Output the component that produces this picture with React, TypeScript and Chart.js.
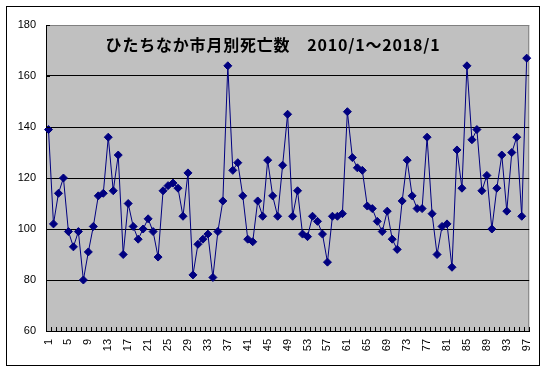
import { useEffect, useRef } from 'react';
import { Chart, registerables } from 'chart.js';

Chart.register(...registerables);

const TITLE = 'ひたちなか市月別死亡数　2010/1～2018/1';

// month index 1..97 (2010/1 .. 2018/1)
const months = [
  '1', '2', '3', '4', '5', '6', '7', '8', '9', '10',
  '11', '12', '13', '14', '15', '16', '17', '18', '19', '20',
  '21', '22', '23', '24', '25', '26', '27', '28', '29', '30',
  '31', '32', '33', '34', '35', '36', '37', '38', '39', '40',
  '41', '42', '43', '44', '45', '46', '47', '48', '49', '50',
  '51', '52', '53', '54', '55', '56', '57', '58', '59', '60',
  '61', '62', '63', '64', '65', '66', '67', '68', '69', '70',
  '71', '72', '73', '74', '75', '76', '77', '78', '79', '80',
  '81', '82', '83', '84', '85', '86', '87', '88', '89', '90',
  '91', '92', '93', '94', '95', '96', '97',
];

const deaths = [
  139, 102, 114, 120, 99, 93, 99, 80, 91, 101,
  113, 114, 136, 115, 129, 90, 110, 101, 96, 100,
  104, 99, 89, 115, 117, 118, 116, 105, 122, 82,
  94, 96, 98, 81, 99, 111, 164, 123, 126, 113,
  96, 95, 111, 105, 127, 113, 105, 125, 145, 105,
  115, 98, 97, 105, 103, 98, 87, 105, 105, 106,
  146, 128, 124, 123, 109, 108, 103, 99, 107, 96,
  92, 111, 127, 113, 108, 108, 136, 106, 90, 101,
  102, 85, 131, 116, 164, 135, 139, 115, 121, 100,
  116, 129, 107, 130, 136, 105, 167,
];

const yMin = 60;
const yMax = 180;
const yStep = 20;
const labelEvery = 4;

const AXIS_FONT = 'Liberation Sans, Arial, sans-serif';

const framePlugin = {
  id: 'excelFrame',
  beforeDraw(chart: any) {
    const { ctx, chartArea: a, width, height } = chart;
    ctx.save();
    ctx.fillStyle = '#ffffff';
    ctx.fillRect(0, 0, width, height);
    ctx.fillStyle = '#C0C0C0';
    ctx.fillRect(a.left, a.top, a.right - a.left, a.bottom - a.top);
    ctx.strokeStyle = '#808080';
    ctx.lineWidth = 1;
    ctx.strokeRect(a.left + 0.5, a.top + 0.5, a.right - a.left - 1, a.bottom - a.top);
    ctx.strokeStyle = '#000000';
    ctx.lineWidth = 1;
    ctx.strokeRect(6.5, 6.5, 533, 359);
    ctx.restore();
  },
  afterDraw(chart: any) {
    const { ctx, chartArea: a } = chart;
    const xs = chart.scales.x;
    const ys = chart.scales.y;
    ctx.save();
    ctx.strokeStyle = '#000000';
    ctx.lineWidth = 1;
    ctx.beginPath();
    const n = xs.ticks.length;
    const step = (xs.right - xs.left) / n;
    for (let i = 0; i <= n; i++) {
      const x = Math.round(xs.left + i * step) + 0.5;
      ctx.moveTo(x, a.bottom);
      ctx.lineTo(x, a.bottom - 4);
    }
    ys.ticks.forEach((t: any) => {
      const y = Math.round(ys.getPixelForValue(t.value)) + 0.5;
      ctx.moveTo(a.left, y);
      ctx.lineTo(a.left + 4, y);
    });
    ctx.stroke();
    ctx.fillStyle = '#000000';
    ctx.font = 'bold 16px "Noto Sans CJK JP", sans-serif';
    try {
      (ctx as any).letterSpacing = '0.8px';
    } catch (e) {
      /* ignore */
    }
    ctx.textAlign = 'center';
    ctx.textBaseline = 'middle';
    ctx.fillText(TITLE, 273, 45);
    ctx.restore();
  },
};

export default function App() {
  const ref = useRef<HTMLCanvasElement | null>(null);
  useEffect(() => {
    if (!ref.current) return;
    const chart = new Chart(ref.current, {
      type: 'line',
      data: {
        labels: months,
        datasets: [
          {
            data: deaths,
            borderColor: '#000080',
            backgroundColor: '#000080',
            borderWidth: 1,
            pointStyle: 'rectRot',
            pointRadius: 4,
            pointBorderWidth: 1,
            pointBorderColor: '#000080',
            pointBackgroundColor: '#000080',
            tension: 0,
            fill: false,
          },
        ],
      },
      options: {
        responsive: false,
        animation: false,
        layout: { padding: { left: 0, right: 16, top: 25, bottom: 0 } },
        plugins: {
          legend: { display: false },
          title: { display: false },
          tooltip: { enabled: false },
        },
        scales: {
          x: {
            type: 'category',
            offset: true,
            grid: { display: false, drawTicks: false },
            border: { display: true, color: '#000000', width: 1 },
            ticks: {
              autoSkip: false,
              maxRotation: 90,
              minRotation: 90,
              padding: 8,
              color: '#000000',
              font: { family: AXIS_FONT, size: 11 },
              callback: (_v: any, i: number) => (i % labelEvery === 0 ? months[i] : ''),
            },
            afterFit: (s: any) => {
              s.height = 41;
            },
          },
          y: {
            min: yMin,
            max: yMax,
            grid: {
              drawTicks: false,
              lineWidth: 1,
              color: (c: any) => (c.tick && c.tick.value === yMax ? '#808080' : '#000000'),
            },
            border: { display: true, color: '#000000', width: 1 },
            ticks: {
              stepSize: yStep,
              padding: 10,
              color: '#000000',
              font: { family: AXIS_FONT, size: 11 },
            },
            afterFit: (s: any) => {
              s.width = 46;
            },
          },
        },
      },
      plugins: [framePlugin],
    });
    return () => chart.destroy();
  }, []);
  return (
    <div style={{ position: 'absolute', left: 0, top: 0, width: 548, height: 372 }}>
      <canvas ref={ref} width={548} height={372} style={{ display: 'block' }} />
    </div>
  );
}
